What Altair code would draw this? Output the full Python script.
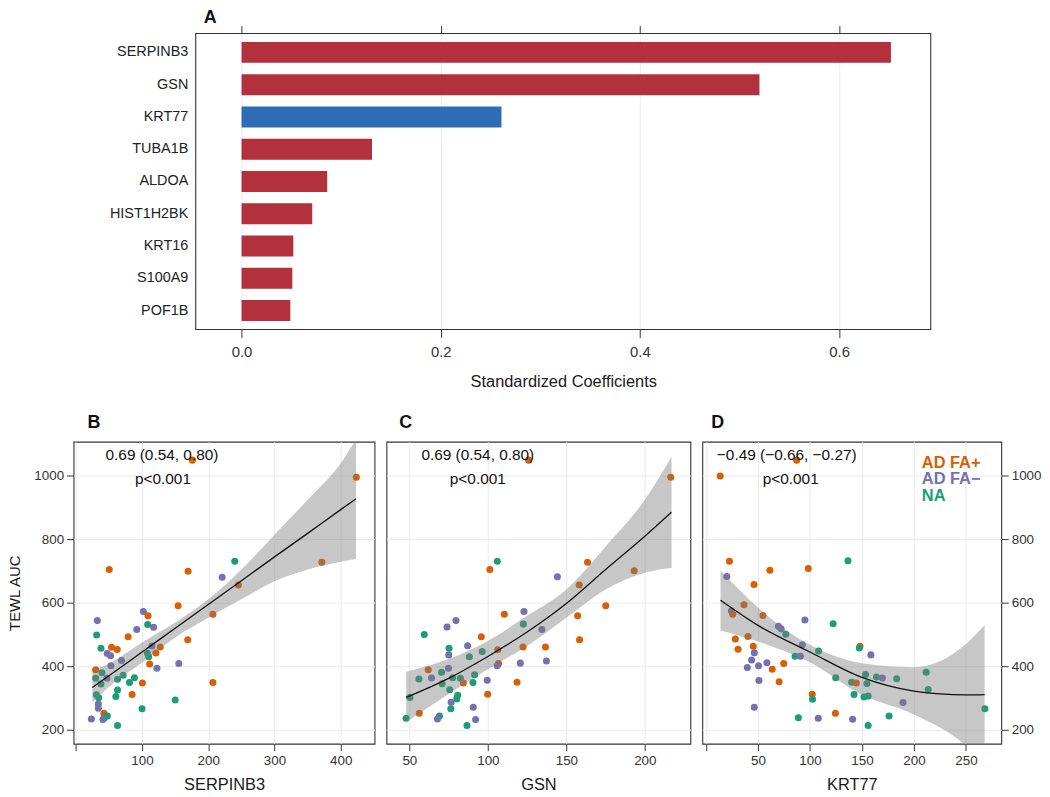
import altair as alt
import pandas as pd

FONT = "Liberation Sans"
RED = "#B3303D"
BLUE = "#2E6CB3"
GROUPS = ["AD FA+", "AD FA\u2212", "NA"]
GCOLS = ["#D95F02", "#7570B3", "#1B9E77"]
CODE = {"O": GROUPS[0], "P": GROUPS[1], "G": GROUPS[2]}

# ---------------- Panel A data ----------------
genes = ["SERPINB3", "GSN", "KRT77", "TUBA1B", "ALDOA", "HIST1H2BK", "KRT16", "S100A9", "POF1B"]
coefs = [0.652, 0.520, 0.261, 0.131, 0.086, 0.071, 0.052, 0.051, 0.049]
direction = ["pos", "pos", "neg", "pos", "pos", "pos", "pos", "pos", "pos"]

# ---------------- Panel B data (SERPINB3) ----------------
b_x = [176, 423.5, 50.5, 169.5, 240, 221, 245.5, 371.5, 154.5, 207,
       102, 109, 32.5, 108.5, 117.5, 92, 31.5, 79, 169, 38,
       54, 62.5, 47.5, 52.5, 115, 127.5, 121, 108, 110, 69,
       53, 111.5, 122.5, 155.5, 30, 39.5, 30, 47, 38, 63,
       71.5, 88.5, 81, 100.5, 207, 63, 31, 34.5, 60.5, 85,
       150, 34, 34, 100, 42.5, 47.5, 43, 41, 23.5, 63]
b_y = [1050, 996, 705, 700, 731, 681, 656, 728, 591, 564,
       573, 559, 544, 532, 523, 516, 499, 493, 484, 457,
       460, 453, 440, 433, 464, 461, 442, 442, 430, 418,
       402, 407, 394, 409, 389, 380, 362, 362, 344, 359,
       372, 364, 349, 347, 349, 325, 310, 301, 305, 311,
       294, 281, 268, 266, 252, 243, 237, 232, 234, 213]
b_g = ["O", "O", "O", "O", "G", "P", "O", "O", "O", "O",
       "P", "O", "P", "G", "P", "P", "G", "O", "O", "G",
       "O", "O", "P", "P", "P", "O", "O", "G", "G", "P",
       "P", "O", "P", "P", "O", "G", "G", "P", "G", "G",
       "G", "G", "G", "O", "O", "G", "G", "G", "G", "O",
       "G", "P", "P", "G", "O", "G", "G", "P", "P", "G"]
b_fit_x = [25, 50, 100, 150, 200, 250, 300, 350, 400, 423]
b_fit = [333, 370, 445, 520, 595, 670, 745, 819, 894, 928]
b_lo = [287, 335, 412, 491, 553, 611, 668, 705, 730, 738]
b_hi = [385, 408, 475, 538, 611, 705, 815, 925, 1040, 1115]

# ---------------- Panel C data (GSN) ----------------
c_x = [126, 216.5, 106, 101.3, 163.5, 144.3, 193.2, 158.2, 175.1, 110.5,
       123, 157.2, 122.6, 134.4, 79.7, 74, 59.5, 95.8, 158.4, 75.3,
       87.1, 75.1, 88.2, 96.4, 106.3, 122.4, 136.7, 137.3, 120.7, 106.8,
       105.9, 74.9, 62, 56.1, 64.1, 70.5, 77.6, 82.5, 91.6, 70.9,
       84.4, 90.5, 99.6, 118.6, 75.7, 99.9, 50.4, 80.8, 80.2, 76.6,
       76.4, 90.7, 56.3, 69.2, 67.9, 47.9, 92.2, 86.7]
c_y = [1050, 996, 731, 705, 728, 682, 701, 656, 591, 564,
       573, 559, 533, 516, 544, 524, 500, 493, 484, 457,
       465, 436, 430, 447, 452, 461, 461, 417, 410, 409,
       402, 394, 389, 360, 363, 381, 364, 362, 373, 345,
       347, 349, 356, 350, 326, 312, 302, 309, 297, 287,
       266, 271, 252, 243, 234, 236, 232, 213]
c_g = ["O", "O", "G", "O", "O", "P", "O", "O", "O", "O",
       "P", "O", "G", "P", "P", "P", "G", "O", "O", "G",
       "P", "P", "G", "G", "O", "O", "O", "P", "P", "O",
       "P", "P", "O", "G", "P", "G", "G", "G", "G", "G",
       "O", "G", "P", "O", "G", "O", "G", "G", "G", "P",
       "G", "P", "O", "G", "P", "G", "P", "G"]
c_fit_x = [48, 75, 100, 125, 150, 175, 200, 217]
c_fit = [302, 362, 431, 508, 598, 705, 810, 886]
c_lo = [224, 313, 391, 464, 553, 642, 695, 710]
c_hi = [383, 423, 480, 559, 642, 778, 925, 1061]

# ---------------- Panel D data (KRT77) ----------------
d_x = [87.3, 13.7, 136.6, 22.6, 98.4, 61.5, 20.1, 46.2, 36.6, 24.5,
       25.8, 54.8, 95.2, 122.3, 69.7, 72.3, 76.8, 28.3, 40.4, 30.9,
       45.5, 148.1, 147.5, 46.5, 92.7, 108.3, 85.7, 90.8, 158.6, 74.8,
       58.6, 43.9, 39.8, 50.6, 63.7, 51, 70.4, 124.8, 153.5, 164,
       169.7, 183.4, 140.1, 144.6, 154.8, 211.8, 213.7, 102.2, 102.5, 142.4,
       152, 156, 189.5, 268.2, 46.5, 124.5, 176.1, 88.9, 108, 141.1,
       156]
d_y = [1050, 1000, 733, 731, 708, 703, 683, 658, 594, 575,
       564, 560, 546, 534, 526, 518, 501, 486, 494, 454,
       463, 463, 458, 443, 468, 448, 432, 432, 436, 409,
       411, 420, 396, 402, 391, 355, 351, 364, 374, 366,
       363, 361, 350, 347, 346, 381, 327, 312, 296, 311,
       303, 306, 286, 266, 271, 252, 243, 238, 236, 233,
       213]
d_g = ["O", "O", "G", "O", "O", "O", "P", "O", "O", "P",
       "O", "O", "P", "G", "P", "P", "G", "O", "O", "O",
       "O", "O", "G", "P", "P", "G", "G", "P", "P", "O",
       "P", "P", "P", "P", "O", "P", "O", "G", "G", "G",
       "P", "G", "G", "O", "G", "G", "G", "O", "G", "G",
       "G", "G", "P", "G", "P", "O", "G", "G", "P", "P",
       "G"]
d_fit_x = [14, 50, 100, 150, 200, 250, 268]
d_fit = [608, 529, 445, 365, 322, 310, 311]
d_lo = [513, 478, 413, 310, 248, 150, 92]
d_hi = [702, 585, 468, 410, 397, 470, 530]

Y_DOMAIN = [156, 1108]
Y_TICKS = [200, 400, 600, 800, 1000]

# ---------------- Panel A chart ----------------
A_LEFT = 123          # gap between bottom-row plot start and panel A frame
A_W = 740
A_DOMAIN = [-0.046, 0.692]
dfA = pd.DataFrame({"gene": genes, "coef": coefs, "dir": direction})
xA = alt.Scale(domain=A_DOMAIN, range=[A_LEFT, A_LEFT + A_W], nice=False, zero=False)
yA = alt.Scale(paddingInner=0.35, paddingOuter=0.26)
a_vals = [0, 0.2, 0.4, 0.6]

bars = alt.Chart(dfA).mark_bar().encode(
    x=alt.X("coef:Q", scale=xA,
            axis=alt.Axis(orient="bottom", values=a_vals, format=".1f",
                          title="Standardized Coefficients", tickSize=8,
                          labelPadding=7, titlePadding=14, labelFontSize=15,
                          titleFontSize=16.5, grid=True)),
    y=alt.Y("gene:N", sort=genes, scale=yA,
            axis=alt.Axis(title=None, offset=-A_LEFT, ticks=False, labelPadding=8,
                          labelFontSize=14.5, labelColor="#222222", grid=False)),
    color=alt.Color("dir:N", scale=alt.Scale(domain=["pos", "neg"], range=[RED, BLUE]),
                    legend=None),
)
top_ticks = alt.Chart(dfA).mark_point(opacity=0).encode(
    x=alt.X("coef:Q", scale=xA,
            axis=alt.Axis(orient="top", values=a_vals, labels=False, tickSize=8,
                          grid=False, title=None)),
    y=alt.Y("gene:N", sort=genes, scale=yA),
)
frameA = alt.Chart(alt.Data(values=[{"k": 1}])).mark_rect(
    fillOpacity=0, stroke="#333333", strokeWidth=1.1
).encode(
    x=alt.X(datum=A_DOMAIN[0], scale=xA, axis=None),
    x2=alt.X2(datum=A_DOMAIN[1]),
    y=alt.value(0), y2=alt.value(298),
)
panelA = alt.layer(bars, top_ticks, frameA).resolve_axis(x="independent").properties(
    width=A_LEFT + A_W, height=298,
    view=alt.ViewBackground(stroke=None),
    title=alt.TitleParams("A", anchor="start", frame="group", dx=A_LEFT + 8, offset=-2,
                          fontSize=18, fontWeight="bold", font=FONT),
)


def panel(xs, ys, gs, fx, ffit, flo, fhi, xdomain, xvals, xtitle, letter, dx,
          ykind, corr, text_x, p_x, width, legend=False):
    pts = pd.DataFrame({"x": xs, "y": ys, "grp": [CODE[g] for g in gs]})
    fit = pd.DataFrame({"x": fx, "fit": ffit, "lo": flo, "hi": fhi})
    xsc = alt.Scale(domain=xdomain, nice=False, zero=False)
    ysc = alt.Scale(domain=Y_DOMAIN, nice=False, zero=False)
    xax = alt.Axis(values=xvals, labelExpr="datum.value == 0 ? '' : datum.label",
                   title=xtitle, tickSize=7, labelPadding=3, titlePadding=10,
                   labelFontSize=13.5, titleFontSize=16.5, grid=True)
    if ykind == "left":
        yax = alt.Axis(values=Y_TICKS, format="d", title="TEWL AUC", titleX=-51,
                       titleFontSize=15, tickSize=7, labelPadding=3, labelFontSize=13.5,
                       grid=True)
    elif ykind == "right":
        yax = alt.Axis(values=Y_TICKS, format="d", orient="right", title=None, tickSize=7,
                       labelPadding=3, labelFontSize=13.5, grid=True)
    else:
        yax = alt.Axis(values=Y_TICKS, title=None, labels=False, ticks=False, grid=True)

    def X(f):
        return alt.X(f, scale=xsc, axis=xax)

    def Y(f):
        return alt.Y(f, scale=ysc, axis=yax)

    points = alt.Chart(pts).mark_circle(size=50, opacity=1).encode(
        x=X("x:Q"), y=Y("y:Q"),
        color=alt.Color("grp:N", scale=alt.Scale(domain=GROUPS, range=GCOLS), legend=None),
    )
    band = alt.Chart(fit).mark_area(color="#7A7A7A", opacity=0.42, interpolate="monotone",
                                    clip=True).encode(x=X("x:Q"), y=Y("lo:Q"), y2="hi:Q")
    line = alt.Chart(fit).mark_line(color="#111111", strokeWidth=1.3, interpolate="monotone",
                                    clip=True).encode(x=X("x:Q"), y=Y("fit:Q"))
    one = alt.Data(values=[{"k": 1}])
    t1 = alt.Chart(one).mark_text(text=corr, font=FONT, fontSize=15.5, color="#111111",
                                  align="center", baseline="middle").encode(
        x=alt.value(text_x), y=alt.value(13))
    t2 = alt.Chart(one).mark_text(text="p<0.001", font=FONT, fontSize=15.5, color="#111111",
                                  align="center", baseline="middle").encode(
        x=alt.value(p_x), y=alt.value(38))
    layers = [points, band, line, t1, t2]
    if legend:
        for i, (g, c) in enumerate(zip(GROUPS, GCOLS)):
            layers.append(alt.Chart(one).mark_text(
                text=g, font=FONT, fontSize=16.5, fontWeight="bold", color=c,
                align="left", baseline="middle").encode(
                x=alt.value(221), y=alt.value(21 + 17 * i)))
    return alt.layer(*layers).properties(
        width=width, height=304,
        title=alt.TitleParams(letter, anchor="start", frame="group", dx=dx, offset=10,
                              fontSize=18, fontWeight="bold", font=FONT),
    )


panelB = panel(b_x, b_y, b_g, b_fit_x, b_fit, b_lo, b_hi, [-3.4, 451],
               [0, 100, 200, 300, 400], "SERPINB3", "B", 14, "left",
               "0.69 (0.54, 0.80)", 89, 90, 303)
panelC = panel(c_x, c_y, c_g, c_fit_x, c_fit, c_lo, c_hi, [35.4, 229],
               [50, 100, 150, 200], "GSN", "C", 13, "none",
               "0.69 (0.54, 0.80)", 92, 92, 306)
panelD = panel(d_x, d_y, d_g, d_fit_x, d_fit, d_lo, d_hi, [-3.5, 284],
               [0, 50, 100, 150, 200, 250], "KRT77", "D", 9, "right",
               "\u22120.49 (\u22120.66, \u22120.27)", 85, 89, 301, legend=True)

bottom = alt.hconcat(panelB, panelC, panelD, spacing=10)

chart = alt.vconcat(panelA, bottom, spacing=23).resolve_scale(
    color="independent"
).properties(
    padding={"left": -1, "top": -2, "right": 0, "bottom": 0}
).configure_view(
    stroke="#333333", strokeWidth=1.1
).configure_axis(
    labelFont=FONT, titleFont=FONT, labelColor="#333333", titleColor="#1a1a1a",
    tickColor="#333333", gridColor="#EBEBEB", gridWidth=1, domain=False,
    titleFontWeight="normal"
).configure_title(
    font=FONT, color="#111111"
)

chart.save("out.html", embed_options={"renderer": "svg", "actions": False})
